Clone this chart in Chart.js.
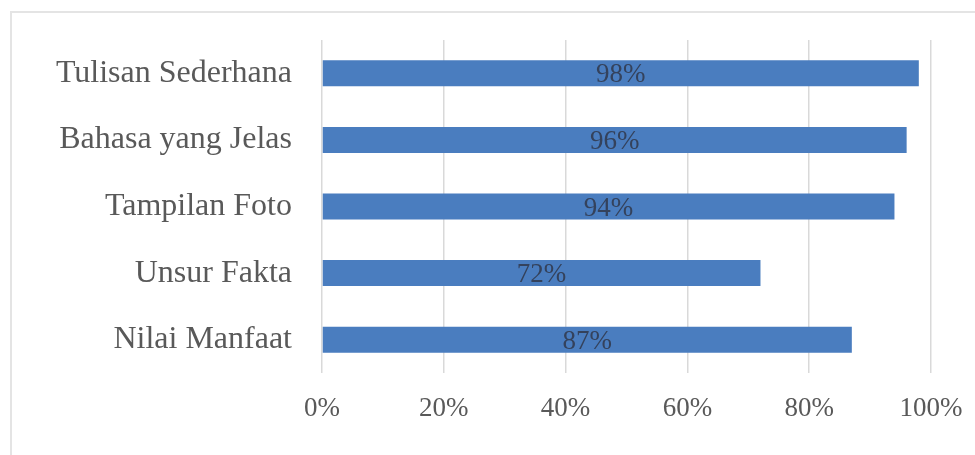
<!DOCTYPE html>
<html>
<head>
<meta charset="utf-8">
<script src="https://cdn.jsdelivr.net/npm/chart.js@4.4.1/dist/chart.umd.min.js"></script>
<style>
  html, body { margin: 0; padding: 0; background: #ffffff; }
  #wrap { position: relative; width: 975px; height: 455px; overflow: hidden; }
  #frame { position: absolute; left: 10px; top: 11px; width: 1000px; height: 500px;
           border-left: 2px solid #e4e4e4; border-top: 2px solid #e4e4e4; box-sizing: border-box; }
  canvas { position: absolute; left: 0; top: 0; }
</style>
</head>
<body>
<div id="wrap">
  <div id="frame"></div>
  <canvas id="c" width="975" height="455"></canvas>
</div>
<script>
const categories = ["Tulisan Sederhana", "Bahasa yang Jelas", "Tampilan Foto", "Unsur Fakta", "Nilai Manfaat"];
const values = [98, 96, 94, 72, 87];
const tickValues = [0, 20, 40, 60, 80, 100];

const barLabels = {
  id: 'barLabels',
  afterDatasetsDraw(chart) {
    const ctx = chart.ctx;
    const meta = chart.getDatasetMeta(0);
    ctx.save();
    ctx.font = '27px "Liberation Serif", "Times New Roman", serif';
    ctx.fillStyle = '#34425c';
    ctx.textAlign = 'center';
    ctx.textBaseline = 'middle';
    meta.data.forEach((el, i) => {
      const cx = (el.x + el.base) / 2;
      ctx.fillText(values[i] + '%', cx, el.y + 2);
    });
    ctx.restore();
  }
};

new Chart(document.getElementById('c'), {
  type: 'bar',
  data: {
    labels: categories,
    datasets: [{
      data: values,
      backgroundColor: '#4a7dbf',
      borderWidth: 0,
      categoryPercentage: 1,
      barPercentage: 0.39
    }]
  },
  options: {
    indexAxis: 'y',
    responsive: false,
    animation: false,
    layout: { padding: { top: 40, right: 44, left: 0, bottom: 0 } },
    plugins: { legend: { display: false }, tooltip: { enabled: false } },
    scales: {
      x: {
        min: 0, max: 100,
        afterBuildTicks(scale) { scale.ticks = tickValues.map(v => ({ value: v })); },
        afterFit(scale) { scale.height = 82; scale.paddingRight = 0; scale.paddingLeft = 0; },
        grid: { color: '#d9d9d9', lineWidth: 1.5, drawTicks: false },
        border: { display: false },
        ticks: {
          padding: 20,
          color: '#595959',
          font: { family: '"Liberation Serif", "Times New Roman", serif', size: 27 },
          callback: v => v + '%'
        }
      },
      y: {
        afterFit(scale) { scale.width = 322; scale.paddingTop = 0; scale.paddingBottom = 0; },
        grid: { display: false, drawTicks: false },
        border: { display: false },
        ticks: {
          padding: 30,
          color: '#595959',
          font: { family: '"Liberation Serif", "Times New Roman", serif', size: 32 }
        }
      }
    }
  },
  plugins: [barLabels]
});
</script>
</body>
</html>
